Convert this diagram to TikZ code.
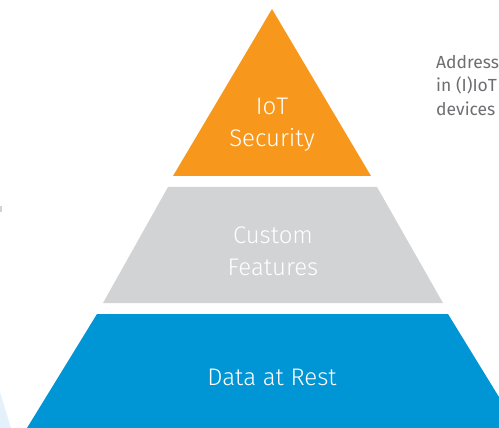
\documentclass[tikz,border=0pt]{standalone}
\usepackage{fontspec}
\setmainfont{Fira Sans Light}
\newfontfamily\sidefont{Fira Sans}
\definecolor{iotorange}{HTML}{F7981D}
\definecolor{featgray}{HTML}{D1D3D4}
\definecolor{restblue}{HTML}{0095D4}
\definecolor{sidegray}{HTML}{6D6E71}
\definecolor{paleblue}{HTML}{E4F1FA}
\tikzset{
  layertext/.style={text=white, font=\fontsize{24}{32}\selectfont, align=center, inner sep=0pt},
  sidetext/.style={text=sidegray, font=\sidefont\fontsize{17.5}{23.5}\selectfont, align=left, anchor=north west, inner sep=0pt}
}
\begin{document}
\begin{tikzpicture}[x=1pt,y=-1pt]
\useasboundingbox (0,0) rectangle (499,428);
\clip (0,0) rectangle (499,428);
% background marks
\fill[paleblue] (0,392) -- (11,428) -- (0,428) -- cycle;
\fill[featgray] (0,206) rectangle (2,212);
% layers
\fill[iotorange] (272,9) -- (371,176) -- (173,176) -- cycle;
\fill[featgray] (168,187) -- (377,187) -- (443,303) -- (103,303) -- cycle;
\fill[restblue] (97,314) -- (448,314) -- (518,428) -- (27,428) -- cycle;
% labels
\node[layertext] (iot) at (272,125) {IoT\\Security};
\node[layertext] (feat) at (273,251) {Custom\\Features};
\node[layertext] (rest) at (272,377) {Data at Rest};
\node[sidetext] (side) at (436,55) {Addresses\\in (I)IoT\\devices};
\end{tikzpicture}
\end{document}
